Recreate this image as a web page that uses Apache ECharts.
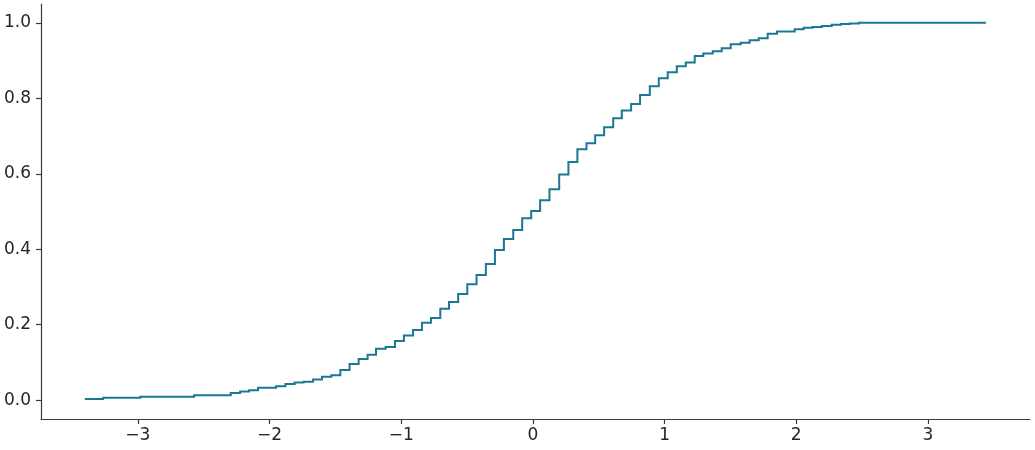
<!DOCTYPE html>
<html>
<head>
<meta charset="utf-8">
<script src="https://cdn.jsdelivr.net/npm/echarts@6/dist/echarts.min.js"></script>
<style>
  html, body { margin: 0; padding: 0; background: #fff; }
  #chart { width: 1035px; height: 450px; }
</style>
</head>
<body>
<div id="chart"></div>
<script>
// step edges (x) and cumulative proportion after each step (y)
const stepX = [
  -3.402, -3.263, -2.980, -2.572, -2.294, -2.223, -2.155, -2.087, -1.950, -1.879,
  -1.809, -1.741, -1.669, -1.601, -1.530, -1.462, -1.392, -1.323, -1.255, -1.191,
  -1.118, -1.047, -0.979, -0.910, -0.842, -0.774, -0.703, -0.637, -0.567, -0.498,
  -0.428, -0.357, -0.288, -0.220, -0.149, -0.081, -0.013, 0.055, 0.126, 0.200,
  0.270, 0.338, 0.407, 0.473, 0.541, 0.610, 0.675, 0.746, 0.814, 0.888,
  0.956, 1.024, 1.093, 1.161, 1.229, 1.294, 1.366, 1.434, 1.502, 1.578,
  1.646, 1.715, 1.783, 1.854, 1.988, 2.056, 2.124, 2.195, 2.269, 2.339,
  2.407, 2.476, 3.440
];
const stepY = [
  0.003, 0.006, 0.009, 0.013, 0.019, 0.023, 0.026, 0.033, 0.037, 0.043,
  0.047, 0.049, 0.055, 0.062, 0.066, 0.080, 0.096, 0.109, 0.120, 0.136,
  0.141, 0.157, 0.171, 0.186, 0.205, 0.218, 0.242, 0.260, 0.281, 0.307,
  0.332, 0.361, 0.398, 0.427, 0.451, 0.482, 0.501, 0.530, 0.559, 0.598,
  0.631, 0.665, 0.681, 0.702, 0.723, 0.747, 0.768, 0.785, 0.809, 0.832,
  0.853, 0.869, 0.885, 0.895, 0.912, 0.919, 0.925, 0.933, 0.943, 0.947,
  0.954, 0.959, 0.971, 0.977, 0.983, 0.987, 0.989, 0.992, 0.995, 0.997,
  0.998, 1.000, 1.000
];
const xTicks = [-3, -2, -1, 0, 1, 2, 3];
const yTicks = [0, 0.2, 0.4, 0.6, 0.8, 1.0];

var chartDom = document.getElementById('chart');
var myChart = echarts.init(chartDom);

const lineColor = '#1b7893';
const axisColor = '#3a3a3a';
const textColor = '#262626';
const fontFamily = 'DejaVu Sans';

// whole step line drawn as one polyline (the line series drops 1px steps)
function renderSteps(params, api) {
  if (params.dataIndex !== 0) return null;
  const pts = [];
  for (let i = 0; i < stepX.length; i++) {
    if (i > 0) pts.push(api.coord([stepX[i], stepY[i - 1]]));
    pts.push(api.coord([stepX[i], stepY[i]]));
  }
  return {
    type: 'polyline',
    shape: { points: pts },
    style: { stroke: lineColor, lineWidth: 2, fill: null, lineJoin: 'miter' },
    silent: true
  };
}

let option = {
  animation: false,
  grid: { left: 41, right: 5, top: 4, bottom: 31, containLabel: false },
  xAxis: {
    type: 'value',
    min: -3.735,
    max: 3.775,
    splitLine: { show: false },
    axisLine: { show: true, onZero: false, lineStyle: { color: axisColor, width: 1.2 } },
    axisTick: { show: true, length: 5, customValues: xTicks, lineStyle: { color: axisColor, width: 1.2 } },
    axisLabel: {
      customValues: xTicks,
      color: textColor,
      fontSize: 17,
      fontFamily: fontFamily,
      margin: 8,
      formatter: function (v) { return String(v).replace('-', '\u2212'); }
    }
  },
  yAxis: {
    type: 'value',
    min: -0.05,
    max: 1.05,
    splitLine: { show: false },
    axisLine: { show: true, onZero: false, lineStyle: { color: axisColor, width: 1.2 } },
    axisTick: { show: true, length: 5, customValues: yTicks, lineStyle: { color: axisColor, width: 1.2 } },
    axisLabel: {
      customValues: yTicks,
      color: textColor,
      fontSize: 17,
      fontFamily: fontFamily,
      margin: 10,
      formatter: function (v) { return v.toFixed(1); }
    }
  },
  series: [
    {
      type: 'custom',
      renderItem: renderSteps,
      data: stepX.map(function (x, i) { return [x, stepY[i]]; }),
      encode: { x: 0, y: 1 },
      clip: true
    }
  ]
};

option && myChart.setOption(option);
</script>
</body>
</html>
